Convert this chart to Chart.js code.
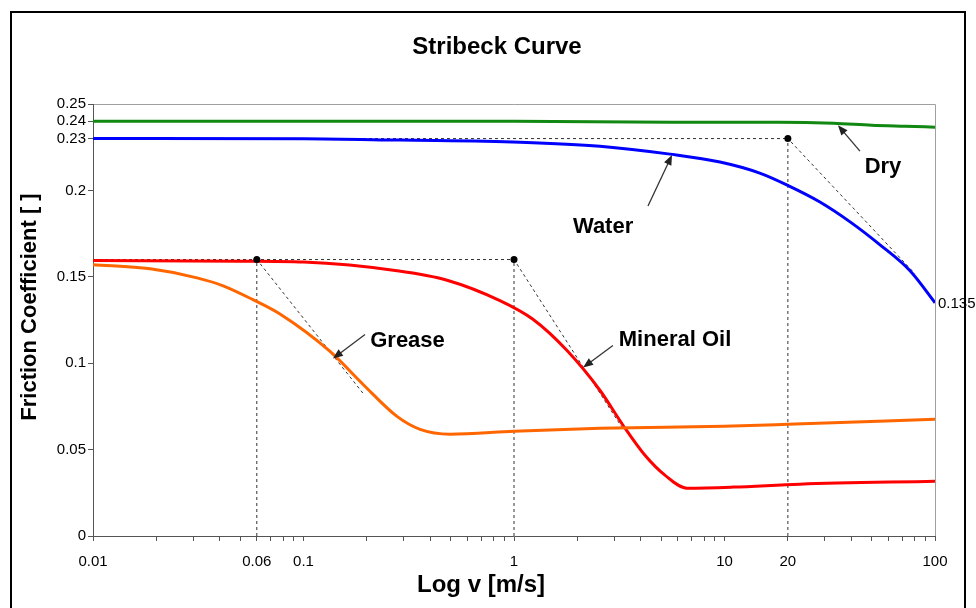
<!DOCTYPE html>
<html>
<head>
<meta charset="utf-8">
<script src="https://cdn.jsdelivr.net/npm/chart.js@4"></script>
<style>
  html, body { margin: 0; padding: 0; background: #fff; }
</style>
</head>
<body>
<canvas id="stribeckChart" width="976" height="608"></canvas>
<script>
// Values (v in m/s, friction coefficient)
const dryV = [0.01, 1, 5.6, 18, 33, 50, 72, 100];
const dryF = [0.24, 0.24, 0.2395, 0.2395, 0.2389, 0.2377, 0.2371, 0.2366];

const waterV = [0.01, 0.1, 0.287, 1.07, 2.56, 5.51, 9.52, 14.7, 20.3, 28.4, 39.5, 54.8, 76.1, 100];
const waterF = [0.23, 0.2299, 0.2291, 0.2279, 0.2256, 0.221, 0.2164, 0.21, 0.2025, 0.1933, 0.1818, 0.1685, 0.1535, 0.135];

const greaseV = [0.01, 0.0187, 0.0312, 0.0415, 0.0575, 0.0773, 0.1337, 0.192, 0.278, 0.358, 0.497, 1, 2.56, 10, 20, 100];
const greaseF = [0.157, 0.1546, 0.1494, 0.1448, 0.1368, 0.1285, 0.1068, 0.0877, 0.0692, 0.0617, 0.0589, 0.0606, 0.0623, 0.0635, 0.0646, 0.0675];

const oilV = [0.01, 0.05, 0.1, 0.278, 0.481, 0.857, 1.23, 1.786, 2.563, 3.295, 4.19, 5.21, 6.64, 10.97, 22.8, 100];
const oilF = [0.1595, 0.159, 0.1585, 0.1535, 0.148, 0.1362, 0.1254, 0.1073, 0.0842, 0.0641, 0.0467, 0.0352, 0.0277, 0.0283, 0.030, 0.0317];

// dashed guide lines and the black dots on them
const guideGreaseV = [0.06, 0.06, 0.192];
const guideGreaseF = [0, 0.16, 0.0825];
const guideTopV = [0.01, 1];
const guideTopF = [0.16, 0.16];
const guideOilV = [1, 1, 3.29];
const guideOilF = [0, 0.16, 0.062];
const guideWaterTopV = [0.01, 20];
const guideWaterTopF = [0.23, 0.23];
const guideWaterV = [20, 20, 80];
const guideWaterF = [0, 0.23, 0.152];
const dotV = [0.06, 1, 20];
const dotF = [0.16, 0.16, 0.23];

// tick labels
const xLabels = [0.01, 0.06, 0.1, 1, 10, 20, 100];
const yTicks = [0, 0.05, 0.1, 0.15, 0.2, 0.23, 0.24, 0.25];

// callout labels, in data units
const calloutText = ['Dry', 'Water', 'Grease', 'Mineral Oil'];
const calloutAt = [[56.6, 0.2135], [2.65, 0.1786], [0.312, 0.1131], [5.82, 0.1137]];
const arrowFrom = [[44, 0.2227], [4.33, 0.191], [0.196, 0.1166], [2.95, 0.1102]];
const arrowTo = [[34.6, 0.2377], [5.63, 0.2205], [0.138, 0.1027], [2.13, 0.0975]];
const endLabel = [100, 0.135];

// minor ticks 2..9 in every decade, plus the labelled ones
const xTicks = [100];
[0.01, 0.1, 1, 10].forEach(d => {
  for (let k = 1; k < 10; k++) xTicks.push(Number((k * d).toPrecision(3)));
});

const pts = (v, f) => v.map((x, i) => ({ x: x, y: f[i] }));

Chart.defaults.font.family = '"Liberation Sans", Arial, sans-serif';
Chart.defaults.color = '#000';

function curve(label, v, f, color) {
  return {
    label: label,
    data: pts(v, f),
    borderColor: color,
    borderWidth: 3,
    pointRadius: 0,
    cubicInterpolationMode: 'monotone',
    fill: false,
    order: 1
  };
}

function guide(v, f) {
  return {
    data: pts(v, f),
    borderColor: '#333',
    borderWidth: 1,
    borderDash: [3, 3],
    pointRadius: 0,
    tension: 0,
    fill: false,
    order: 2
  };
}

function arrow(ctx, x1, y1, x2, y2) {
  const a = Math.atan2(y2 - y1, x2 - x1);
  const c = Math.cos(a), s = Math.sin(a);
  ctx.beginPath();
  ctx.moveTo(x1, y1);
  ctx.lineTo(x2 - 6 * c, y2 - 6 * s);
  ctx.stroke();
  ctx.beginPath();
  ctx.moveTo(x2, y2);
  ctx.lineTo(x2 - 10 * c + 4 * s, y2 - 10 * s - 4 * c);
  ctx.lineTo(x2 - 10 * c - 4 * s, y2 - 10 * s + 4 * c);
  ctx.closePath();
  ctx.fill();
}

const decor = {
  id: 'decor',
  beforeDraw(chart) {
    const { ctx, chartArea: a } = chart;
    ctx.save();
    ctx.fillStyle = '#fff';
    ctx.fillRect(0, 0, chart.width, chart.height);
    ctx.strokeStyle = '#000';
    ctx.lineWidth = 2;
    ctx.strokeRect(11, 12, 954, 620);
    ctx.strokeStyle = '#a0a0a0';
    ctx.lineWidth = 1;
    ctx.beginPath();
    ctx.moveTo(a.left, a.top + 0.5);
    ctx.lineTo(a.right + 0.5, a.top + 0.5);
    ctx.lineTo(a.right + 0.5, a.bottom);
    ctx.stroke();
    ctx.restore();
  },
  afterDatasetsDraw(chart) {
    const { ctx } = chart;
    const x = chart.scales.x, y = chart.scales.y;
    ctx.save();
    ctx.strokeStyle = '#333';
    ctx.fillStyle = '#222';
    ctx.lineWidth = 1.3;
    arrowFrom.forEach((p, i) => {
      const q = arrowTo[i];
      arrow(ctx, x.getPixelForValue(p[0]), y.getPixelForValue(p[1]),
        x.getPixelForValue(q[0]), y.getPixelForValue(q[1]));
    });
    ctx.fillStyle = '#000';
    ctx.font = 'bold 22px "Liberation Sans", Arial, sans-serif';
    ctx.textAlign = 'center';
    ctx.textBaseline = 'middle';
    calloutText.forEach((t, i) => {
      ctx.fillText(t, x.getPixelForValue(calloutAt[i][0]), y.getPixelForValue(calloutAt[i][1]));
    });
    ctx.font = '15px "Liberation Sans", Arial, sans-serif';
    ctx.textAlign = 'left';
    ctx.fillText(String(endLabel[1]), x.getPixelForValue(endLabel[0]) + 3, y.getPixelForValue(endLabel[1]) + 1);
    ctx.restore();
  },
  afterDraw(chart) {
    const { ctx } = chart;
    ctx.save();
    ctx.fillStyle = '#000';
    ctx.textAlign = 'center';
    ctx.textBaseline = 'middle';
    ctx.font = 'bold 24px "Liberation Sans", Arial, sans-serif';
    ctx.fillText('Stribeck Curve', 497, 47);
    ctx.font = 'bold 24px "Liberation Sans", Arial, sans-serif';
    ctx.fillText('Log v [m/s]', 481, 585);
    ctx.translate(30, 307);
    ctx.rotate(-Math.PI / 2);
    ctx.font = 'bold 22px "Liberation Sans", Arial, sans-serif';
    ctx.fillText('Friction Coefficient [ ]', 0, 0);
    ctx.restore();
  }
};

new Chart(document.getElementById('stribeckChart'), {
  type: 'line',
  data: {
    datasets: [
      guide(guideGreaseV, guideGreaseF),
      guide(guideTopV, guideTopF),
      guide(guideOilV, guideOilF),
      guide(guideWaterTopV, guideWaterTopF),
      guide(guideWaterV, guideWaterF),
      curve('Dry', dryV, dryF, '#118811'),
      curve('Water', waterV, waterF, '#0000ff'),
      curve('Grease', greaseV, greaseF, '#ff6600'),
      curve('Mineral Oil', oilV, oilF, '#ff0000'),
      {
        data: pts(dotV, dotF),
        showLine: false,
        pointRadius: 3.5,
        pointBackgroundColor: '#000',
        pointBorderWidth: 0,
        order: 0
      }
    ]
  },
  options: {
    responsive: false,
    animation: false,
    layout: {
      padding: { left: 10, top: 104, right: 41, bottom: 0 }
    },
    plugins: {
      legend: { display: false },
      tooltip: { enabled: false }
    },
    scales: {
      x: {
        type: 'logarithmic',
        min: 0.01,
        max: 100,
        afterBuildTicks: s => { s.ticks = xTicks.map(v => ({ value: v })); },
        afterFit: s => { s.height = 72; },
        ticks: {
          autoSkip: false,
          maxRotation: 0,
          padding: 12,
          font: { size: 15 },
          callback: v => (xLabels.includes(v) ? String(v) : '')
        },
        grid: {
          drawOnChartArea: false,
          tickLength: 5,
          color: '#555'
        },
        border: { color: '#555' }
      },
      y: {
        min: 0,
        max: 0.25,
        afterBuildTicks: s => { s.ticks = yTicks.map(v => ({ value: v })); },
        afterFit: s => { s.width = 83; },
        ticks: {
          autoSkip: false,
          padding: 2,
          font: { size: 15 },
          callback: v => String(v)
        },
        grid: {
          drawOnChartArea: false,
          tickLength: 5,
          color: '#555'
        },
        border: { color: '#555' }
      }
    }
  },
  plugins: [decor]
});
</script>
</body>
</html>
